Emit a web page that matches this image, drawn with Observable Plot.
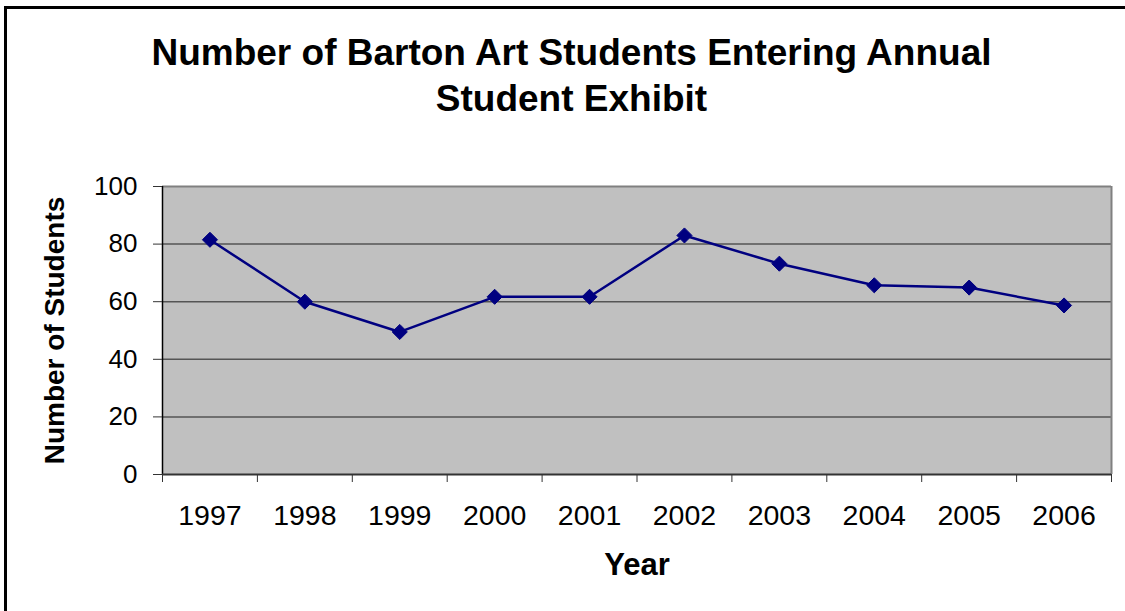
<!DOCTYPE html>
<html>
<head>
<meta charset="utf-8">
<script src="https://cdn.jsdelivr.net/npm/d3@7"></script>
<script src="https://cdn.jsdelivr.net/npm/@observablehq/plot@0.6"></script>
<style>
  html, body { margin: 0; padding: 0; background: #fff; overflow: hidden; width: 1125px; height: 611px; }
  #wrap { position: relative; width: 1125px; height: 611px; overflow: hidden; font-family: "Liberation Sans", Arial, sans-serif; }
  #frameTop { position: absolute; left: 4px; top: 6px; width: 1121px; height: 3px; background: #000; }
  #frameLeft { position: absolute; left: 4px; top: 6px; width: 3px; height: 605px; background: #000; }
  #title { position: absolute; left: 9px; top: 30px; width: 1125px; text-align: center; font-weight: bold; font-size: 37px; line-height: 46px; color: #000; white-space: nowrap; }
  #chart { position: absolute; left: 0; top: 130px; }
</style>
</head>
<body>
<div id="wrap">
  <div id="title">Number of Barton Art Students Entering Annual<br>Student Exhibit</div>
  <div id="chart"></div>
  <div id="frameTop"></div>
  <div id="frameLeft"></div>
</div>
<script>
const years = ["1997", "1998", "1999", "2000", "2001", "2002", "2003", "2004", "2005", "2006"];
const students = [81.5, 60, 49.5, 61.7, 61.7, 83, 73.2, 65.7, 64.9, 58.7];
const yTicks = [0, 20, 40, 60, 80, 100];
const gridValues = [20, 40, 60, 80];

const data = years.map((year, i) => ({i, year, value: students[i]}));
const boundaries = d3.range(years.length + 1).map(k => k - 0.5);
const font = "'Liberation Sans', Arial, sans-serif";

const plot = Plot.plot({
  width: 1125,
  height: 481,
  marginLeft: 162,
  marginRight: 14,
  marginTop: 56,
  marginBottom: 137,
  style: {fontFamily: font, color: "#000", background: "transparent"},
  x: {type: "linear", domain: [-0.5, years.length - 0.5]},
  y: {domain: [0, 100]},
  marks: [
    Plot.frame({fill: "#c0c0c0", stroke: null}),
    Plot.ruleY(gridValues, {stroke: "#555", strokeWidth: 1.5}),
    Plot.ruleY([100], {stroke: "#808080", strokeWidth: 2}),
    Plot.ruleX([years.length - 0.5], {stroke: "#808080", strokeWidth: 2}),
    Plot.ruleX([-0.5], {stroke: "#000", strokeWidth: 1.5}),
    Plot.ruleY([0], {stroke: "#333", strokeWidth: 2}),
    Plot.axisY({ticks: yTicks, tickSize: 9, tickPadding: 16, fontSize: 26, stroke: "#333", label: null}),
    Plot.axisX({ticks: boundaries, tickSize: 8, tickFormat: () => "", stroke: "#333", label: null}),
    Plot.axisX({ticks: d3.range(years.length), tickSize: 0, tickPadding: 30, tickFormat: i => years[i], fontSize: 28.5, label: null}),
    Plot.line(data, {x: "i", y: "value", stroke: "#000080", strokeWidth: 2.5}),
    Plot.dot(data, {x: "i", y: "value", symbol: "diamond2", r: 6.8, fill: "#000080", stroke: "#000080", strokeWidth: 1}),
    Plot.text(["Number of Students"], {frameAnchor: "left", rotate: -90, dx: -107, fontSize: 28, fontWeight: "bold", textAnchor: "middle", lineAnchor: "middle", fill: "#000"}),
    Plot.text(["Year"], {frameAnchor: "bottom", dy: 91, fontSize: 31, fontWeight: "bold", textAnchor: "middle", lineAnchor: "middle", fill: "#000"})
  ]
});
document.getElementById("chart").appendChild(plot);
</script>
</body>
</html>
